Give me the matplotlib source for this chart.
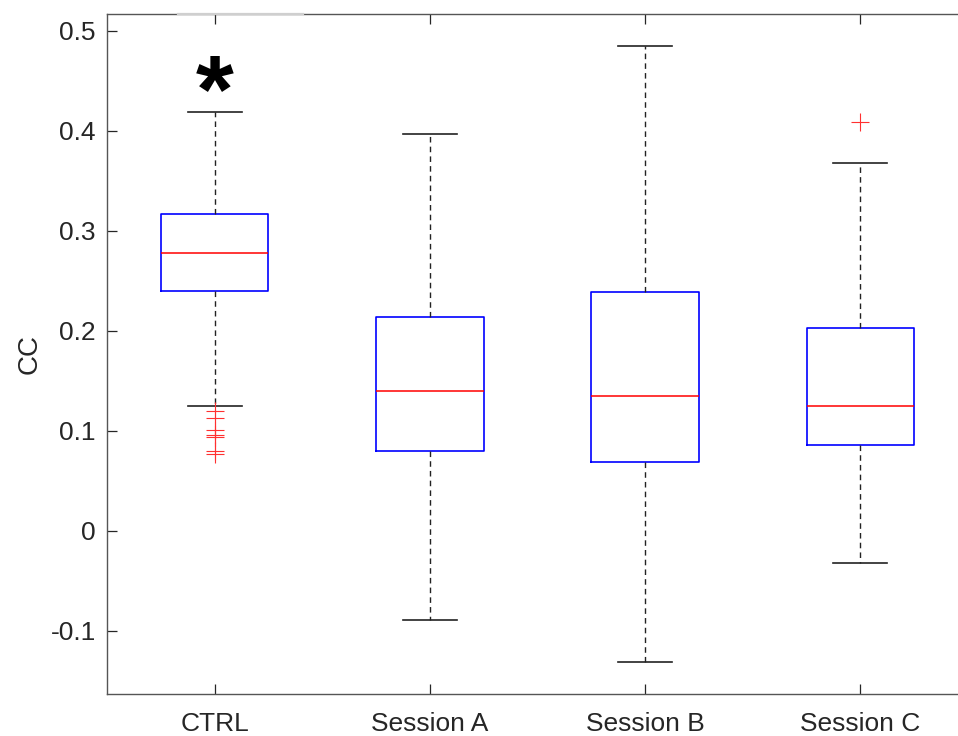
import matplotlib
matplotlib.use("Agg")
import matplotlib.pyplot as plt

# Box statistics per group
groups = ["CTRL", "Session A", "Session B", "Session C"]
q1 = [0.240, 0.080, 0.069, 0.086]
medians = [0.278, 0.140, 0.135, 0.125]
q3 = [0.317, 0.214, 0.239, 0.203]
whisker_low = [0.125, -0.089, -0.131, -0.032]
whisker_high = [0.419, 0.397, 0.485, 0.368]
outliers = [
    [0.120, 0.113, 0.101, 0.096, 0.094, 0.080, 0.077],
    [],
    [],
    [0.409],
]
y_ticks = [-0.1, 0, 0.1, 0.2, 0.3, 0.4, 0.5]
y_tick_labels = ["-0.1", "0", "0.1", "0.2", "0.3", "0.4", "0.5"]
significance_marker = "*"
# faint bar along the top edge spanning the CTRL column
top_bar_span = [0.83, 1.41]

plt.rcParams["font.family"] = ["Liberation Sans", "DejaVu Sans"]
plt.rcParams["axes.unicode_minus"] = False

axis_color = "#262626"

fig = plt.figure(figsize=(9.58, 7.36), dpi=100)
ax = fig.add_axes([0.1117, 0.0571, 0.8987, 0.9239])

stats = []
for i, name in enumerate(groups):
    stats.append(dict(label=name, q1=q1[i], med=medians[i], q3=q3[i],
                      whislo=whisker_low[i], whishi=whisker_high[i],
                      fliers=outliers[i]))

positions = list(range(1, len(groups) + 1))
ax.bxp(stats, positions=positions, widths=0.5, showfliers=True,
       boxprops=dict(color="#0000ff", linewidth=1.2),
       medianprops=dict(color="#ff0000", linewidth=1.1),
       whiskerprops=dict(color="#222222", linewidth=1.0, linestyle=(0, (4, 3))),
       capprops=dict(color="#222222", linewidth=1.2),
       flierprops=dict(marker="+", markeredgecolor="#ff3030", markersize=13,
                       markeredgewidth=0.8, linestyle="none"))

ax.set_xlim(0.5, 4.5)
ax.set_ylim(-0.163, 0.517)
ax.set_yticks(y_ticks)
ax.set_yticklabels(y_tick_labels)
ax.set_xticks(positions)
ax.set_xticklabels(groups)
ax.set_ylabel("CC", fontsize=20, color=axis_color, labelpad=6)

ax.tick_params(axis="both", direction="in", length=7, width=0.9,
               labelsize=19, colors=axis_color, top=True, right=True)
ax.tick_params(axis="x", pad=13)
ax.tick_params(axis="y", pad=8)
for sp in ax.spines.values():
    sp.set_color("#555555")
    sp.set_linewidth(1.0)

ax.plot(top_bar_span, [0.517, 0.517], color="#cfcfcf", linewidth=1.6,
        clip_on=False, zorder=5)

ax.text(positions[0], whisker_high[0] + 0.015, significance_marker,
        ha="center", va="center", fontsize=70, fontweight="bold", color="black")

fig.savefig("out.png", dpi=100)
